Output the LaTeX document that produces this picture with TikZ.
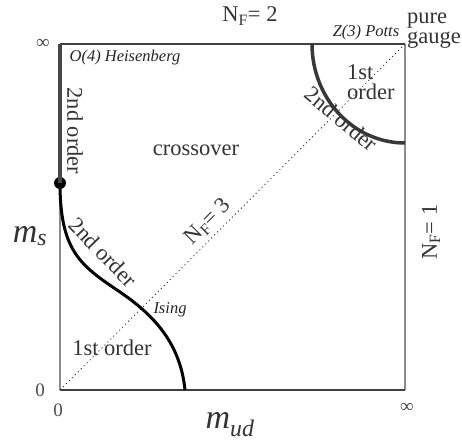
\documentclass[tikz,border=0pt]{standalone}
\usepackage{fontspec}
\setmainfont{Liberation Serif}
\begin{document}
\begin{tikzpicture}[x=1pt,y=-1pt,
  lab/.style={inner sep=0pt, text=black!80, font=\fontsize{22.5}{23}\selectfont},
  ital/.style={inner sep=0pt, text=black!85, font=\fontsize{16.5}{18}\selectfont\itshape},
  axis/.style={inner sep=0pt, text=black!80, font=\fontsize{34}{36}\selectfont\itshape},
  tick/.style={inner sep=0pt, text=black!70, font=\fontsize{19}{20}\selectfont},
  frameside/.style={line width=1.3pt, black!45},
  frametb/.style={line width=1.3pt, black!75},
  dotline/.style={line width=0.8pt, black!80, dash pattern=on 1.2pt off 3pt},
  thickgray/.style={line width=4pt, black!72},
  curve/.style={line width=3pt, black},
  arcline/.style={line width=3.5pt, black!78}]
\useasboundingbox (0,0) rectangle (462,443);
\coordinate (BL) at (60,390);
\coordinate (TL) at (60,44);
\coordinate (TR) at (405,44);
\coordinate (BR) at (405,390);
\coordinate (arcstart) at (312,44);
\coordinate (infl) at (117,290);
\coordinate (cend) at (185,390);
% frame
\draw[frameside] (TL) -- (BL);
\draw[frameside] (TR) -- (BR);
\draw[frametb] (TL) -- (TR);
\draw[frametb] (BL) -- (BR);
% diagonal
\draw[dotline] (BL) -- (TR);
% lines
\node[circle, fill=black, inner sep=0pt, minimum size=12pt] (dot) at (60,183) {};
\draw[thickgray] (TL) -- (dot.center);
\draw[curve] (dot.center) .. controls (60,250) and (80,265) .. (infl) .. controls (150,312) and (180,340) .. (cend);
\draw[arcline] (arcstart) arc[start angle=180, end angle=90, x radius=93, y radius=99];
% labels
\node[lab] (nf2) at (250,16) {N\textsubscript{F}= 2};
\node[lab, rotate=90] (nf1) at (431,232) {N\textsubscript{F}= 1};
\node[lab, rotate=45] (nf3) at (208,222) {N\textsubscript{F}= 3};
\node[lab, align=left, anchor=west] (pg) at (407,31) {pure\\[-3pt]gauge};
\node[ital] (o4) at (125,58) {O(4) Heisenberg};
\node[ital] (z3) at (366,33) {Z(3) Potts};
\node[ital] (ising) at (170,310) {Ising};
\node[lab, rotate=-90] (so1) at (75,131) {2nd order};
\node[lab] (cross) at (196,150) {crossover};
\node[lab] (fo1) at (112,348) {1st order};
\node[lab, rotate=-46] (so2) at (103,252) {2nd order};
\node[lab, align=left, anchor=west] (fo2) at (347,82) {1st\\[-3pt]order};
\node[lab, rotate=-40] (so3) at (341,119) {2nd order};
\node[tick] (inf1) at (43,44) {∞};
\node[tick] (zero1) at (40,390) {0};
\node[tick] (zero2) at (58,410) {0};
\node[tick] (inf2) at (407,408) {∞};
\node[axis] (ms) at (30,236) {m\textsubscript{s}};
\node[axis] (mud) at (230,425) {m\textsubscript{ud}};
\end{tikzpicture}
\end{document}
